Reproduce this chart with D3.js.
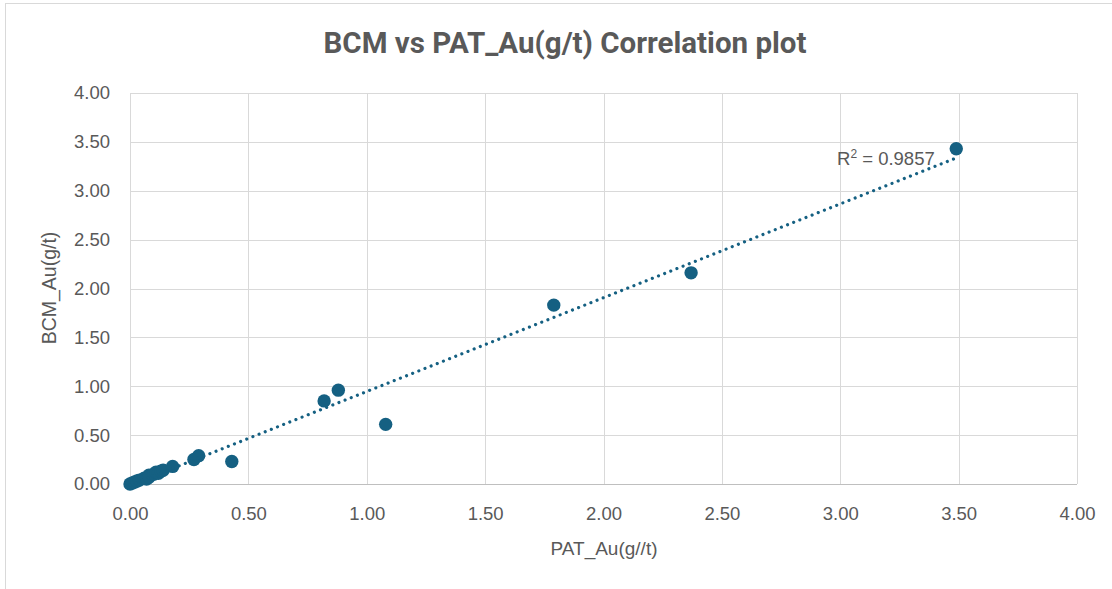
<!DOCTYPE html>
<html>
<head>
<meta charset="utf-8">
<script src="https://cdn.jsdelivr.net/npm/d3@7"></script>
<style>
  html, body { margin: 0; padding: 0; background: #ffffff; }
  svg { display: block; }
</style>
</head>
<body>
<svg id="chart" width="1112" height="589"></svg>
<script>
// ---- data ----
const patAu = [0.00, 0.01, 0.02, 0.03, 0.04, 0.06, 0.07, 0.08, 0.08, 0.10, 0.11, 0.12, 0.13, 0.14, 0.18, 0.27, 0.29, 0.43, 0.82, 0.88, 1.08, 1.79, 2.37, 3.49];
const bcmAu = [0.00, 0.01, 0.02, 0.03, 0.04, 0.06, 0.05, 0.09, 0.07, 0.10, 0.12, 0.11, 0.13, 0.14, 0.18, 0.25, 0.29, 0.23, 0.85, 0.96, 0.61, 1.83, 2.16, 3.43];
const xTicks = [0, 0.5, 1, 1.5, 2, 2.5, 3, 3.5, 4];
const yTicks = [0, 0.5, 1, 1.5, 2, 2.5, 3, 3.5, 4];
const rSquaredText = "0.9857";
const titleText = "BCM vs PAT_Au(g/t) Correlation plot";
const xTitle = "PAT_Au(g//t)";
const yTitle = "BCM_Au(g/t)";

const svg = d3.select("#chart");
const W = 1112, H = 589;
const margin = { left: 130, right: 1112 - 1077, top: 93, bottom: 589 - 484 };
const x = d3.scaleLinear().domain([0, 4]).range([margin.left, W - margin.right]);
const y = d3.scaleLinear().domain([0, 4]).range([H - margin.bottom, margin.top]);

const textColor = "#595959";
const gridColor = "#d9d9d9";
const markColor = "#156082";
const labelFont = "'Liberation Sans', Arial, sans-serif";

// outer chart border (cropped at right & bottom)
svg.append("rect")
  .attr("x", 5.5).attr("y", 3.5)
  .attr("width", W + 20).attr("height", H + 20)
  .attr("fill", "none").attr("stroke", gridColor).attr("stroke-width", 1);

// gridlines
const g = svg.append("g");
g.selectAll("line.vg").data(xTicks).join("line")
  .attr("class", "vg")
  .attr("x1", d => Math.round(x(d)) + 0.5).attr("x2", d => Math.round(x(d)) + 0.5)
  .attr("y1", y(4)).attr("y2", y(0))
  .attr("stroke", gridColor).attr("stroke-width", 1);
g.selectAll("line.hg").data(yTicks).join("line")
  .attr("class", "hg")
  .attr("x1", x(0)).attr("x2", x(4))
  .attr("y1", d => Math.round(y(d)) + 0.5).attr("y2", d => Math.round(y(d)) + 0.5)
  .attr("stroke", d => d === 0 ? "#bfbfbf" : gridColor).attr("stroke-width", 1);

// axes tick labels via d3 axes
const fmt = d3.format(".2f");
const xAxis = d3.axisBottom(x).tickValues(xTicks).tickFormat(fmt).tickSize(0).tickPadding(23);
const yAxis = d3.axisLeft(y).tickValues(yTicks).tickFormat(fmt).tickSize(0).tickPadding(20);
const gx = svg.append("g").attr("transform", `translate(0,${y(0)})`).call(xAxis);
const gy = svg.append("g").attr("transform", `translate(${x(0)},0)`).call(yAxis);
[gx, gy].forEach(a => {
  a.select(".domain").remove();
  a.selectAll("text")
    .attr("fill", textColor)
    .style("font-family", labelFont)
    .style("font-size", "18.5px");
});

// trendline (least squares)
const n = patAu.length;
const mx = d3.mean(patAu), my = d3.mean(bcmAu);
let sxy = 0, sxx = 0;
for (let i = 0; i < n; i++) { sxy += (patAu[i] - mx) * (bcmAu[i] - my); sxx += (patAu[i] - mx) ** 2; }
const slope = sxy / sxx, intercept = my - slope * mx;
const xMin = d3.min(patAu), xMax = d3.max(patAu);

// points
svg.append("g").selectAll("circle").data(patAu.map((v, i) => [v, bcmAu[i]])).join("circle")
  .attr("cx", d => x(d[0])).attr("cy", d => y(d[1]))
  .attr("r", 6.7)
  .attr("fill", markColor);

svg.append("line")
  .attr("x1", x(xMin)).attr("y1", y(slope * xMin + intercept))
  .attr("x2", x(xMax)).attr("y2", y(slope * xMax + intercept))
  .attr("stroke", markColor).attr("stroke-width", 3.2)
  .attr("stroke-linecap", "round")
  .attr("stroke-dasharray", "0.01 6.6");

// R² label
const rt = svg.append("text")
  .attr("x", 837).attr("y", 165)
  .attr("fill", textColor)
  .style("font-family", labelFont)
  .style("font-size", "18.5px");
rt.append("tspan").text("R");
rt.append("tspan").attr("dy", -7).style("font-size", "12px").text("2");
rt.append("tspan").attr("dy", 7).text(" = " + rSquaredText);

// title
svg.append("text")
  .attr("x", 565).attr("y", 53)
  .attr("text-anchor", "middle")
  .attr("fill", textColor)
  .style("font-family", "Roboto, 'Open Sans', sans-serif")
  .style("font-weight", "700")
  .style("font-size", "29.5px")
  .text(titleText);

// axis titles
svg.append("text")
  .attr("x", 604).attr("y", 555)
  .attr("text-anchor", "middle")
  .attr("fill", textColor)
  .style("font-family", labelFont)
  .style("font-size", "19px")
  .text(xTitle);

svg.append("text")
  .attr("transform", `translate(56,288) rotate(-90)`)
  .attr("text-anchor", "middle")
  .attr("fill", textColor)
  .style("font-family", labelFont)
  .style("font-size", "19.5px")
  .text(yTitle);
</script>
</body>
</html>
